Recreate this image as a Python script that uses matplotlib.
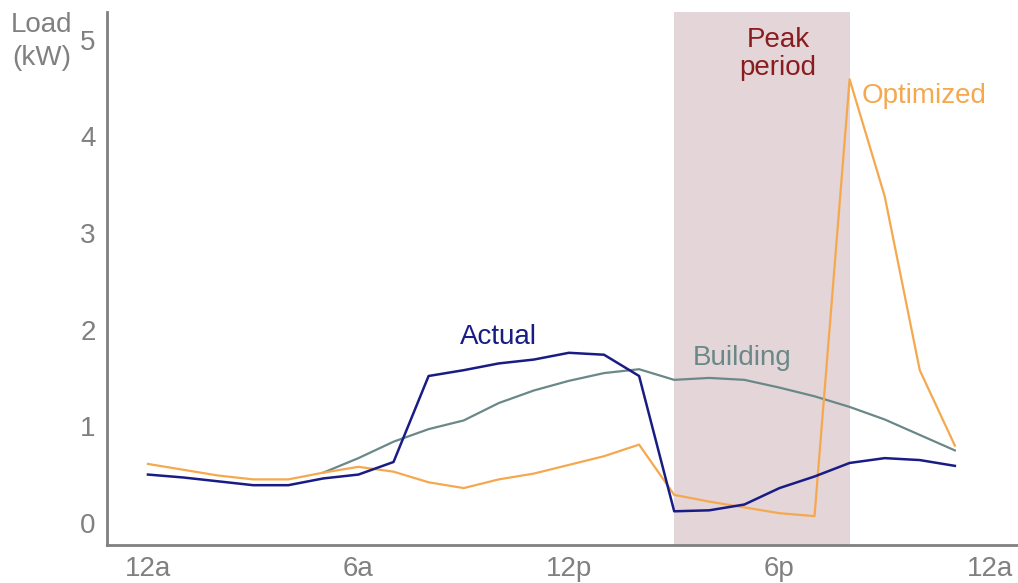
import numpy as np
import matplotlib
matplotlib.use("Agg")
import matplotlib.pyplot as plt

plt.rcParams['font.family'] = ['Liberation Sans', 'DejaVu Sans']

# hourly load, kW
hours = np.arange(24)
actual = [0.50, 0.47, 0.43, 0.39, 0.39, 0.46, 0.50, 0.63, 1.52, 1.58, 1.65, 1.69,
          1.76, 1.74, 1.52, 0.12, 0.13, 0.19, 0.36, 0.48, 0.62, 0.67, 0.65, 0.59]
optimized = [0.61, 0.55, 0.49, 0.45, 0.45, 0.52, 0.58, 0.53, 0.42, 0.36, 0.45, 0.51,
             0.60, 0.69, 0.81, 0.29, 0.22, 0.16, 0.10, 0.07, 4.59, 3.38, 1.58, 0.80]
building_hours = np.arange(5, 24)
building = [0.52, 0.67, 0.84, 0.97, 1.06, 1.24, 1.37, 1.47, 1.55, 1.59,
            1.48, 1.50, 1.48, 1.40, 1.31, 1.20, 1.07, 0.91, 0.75]
peak_start, peak_end = 15, 20

xticks = [0, 6, 12, 18, 24]
xtick_labels = ['12a', '6a', '12p', '6p', '12a']
yticks = [0, 1, 2, 3, 4, 5]

C_ACTUAL = '#191c84'
C_BUILD = '#6a8888'
C_OPT = '#f5a84e'
C_PEAK = '#8a1c1f'
C_SHADE = '#e3d5d8'
C_AXIS = '#808080'

fig = plt.figure(figsize=(10.18, 5.83), dpi=100)
ax = fig.add_axes([0.105, 0.065, 0.895, 0.915])

ax.axvspan(peak_start, peak_end, color=C_SHADE, lw=0, zorder=0)

ax.plot(hours, optimized, color=C_OPT, lw=1.6, zorder=3)
ax.plot(building_hours, building, color=C_BUILD, lw=1.6, zorder=2)
ax.plot(hours, actual, color=C_ACTUAL, lw=1.8, zorder=4)

ax.text(10.0, 1.92, 'Actual', color=C_ACTUAL, fontsize=20, ha='center', va='center')
ax.text(16.95, 1.71, 'Building', color=C_BUILD, fontsize=20, ha='center', va='center')
ax.text(17.96, 4.85, 'Peak\nperiod', color=C_PEAK, fontsize=20, ha='center', va='center',
        linespacing=1.12)
ax.text(20.35, 4.42, 'Optimized', color=C_OPT, fontsize=20, ha='left', va='center')

ax.set_xlim(-1.17, 24.8)
ax.set_ylim(-0.23, 5.29)
ax.set_xticks(xticks)
ax.set_xticklabels(xtick_labels)
ax.set_yticks(yticks)
ax.tick_params(length=0, labelsize=20, labelcolor=C_AXIS, pad=8)

for s in ['top', 'right']:
    ax.spines[s].set_visible(False)
for s in ['left', 'bottom']:
    ax.spines[s].set_color(C_AXIS)
    ax.spines[s].set_linewidth(2)

fig.text(0.041, 0.928, 'Load\n(kW)', color=C_AXIS, fontsize=20, ha='center', va='center',
         linespacing=1.35)

fig.savefig('out.png', dpi=100)
